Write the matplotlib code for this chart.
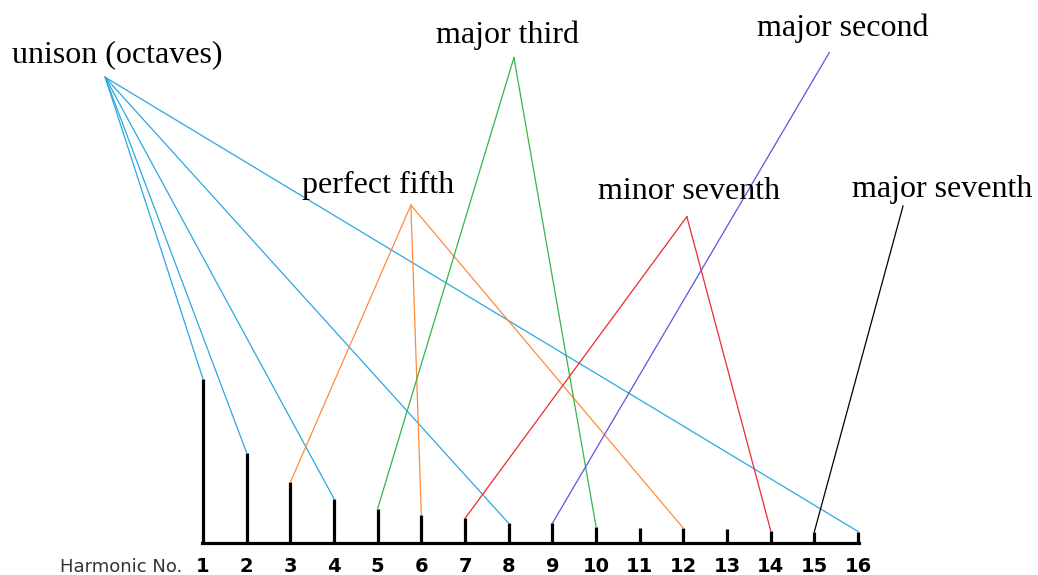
import matplotlib.pyplot as plt

# harmonic series, relative amplitude of each partial
harmonics = list(range(1, 17))
amplitudes = [1.0, 0.55, 0.37, 0.27, 0.21, 0.17, 0.15, 0.12,
              0.12, 0.10, 0.09, 0.09, 0.085, 0.075, 0.07, 0.07]

# interval names and which harmonics each one points at
interval_names = ["unison (octaves)", "perfect fifth", "major third",
                  "minor seventh", "major second", "major seventh"]
interval_targets = [[1, 2, 4, 8, 16], [3, 6, 12], [5, 10], [7, 14], [9], [15]]
interval_colors = ["#2aa8e2", "#ff8a3c", "#36b44a", "#ec2a2e", "#5a55e0", "black"]

# layout: label (centre x, baseline y) and the point the lines fan out from
label_pos = [(-0.97, 2.93), (5.01, 2.135), (7.98, 3.05),
             (12.13, 2.10), (15.65, 3.09), (17.92, 2.11)]
anchor_pos = [(-1.24, 2.84), (5.76, 2.06), (8.12, 2.96),
              (12.08, 1.99), (15.34, 2.99), (17.03, 2.055)]

fig = plt.figure(figsize=(10.38, 5.75), dpi=100)
ax = fig.add_axes([0, 32 / 575, 1, 543 / 575])
ax.set_xlim(-3.648, 20.12)
ax.set_ylim(0, 3.311)

ax.vlines(harmonics, 0, amplitudes, color="black", lw=2.3)

for name, targets, col, lp, ap in zip(interval_names, interval_targets,
                                      interval_colors, label_pos, anchor_pos):
    for h in targets:
        ax.plot([ap[0], h], [ap[1], amplitudes[h - 1]], color=col, lw=0.9,
                clip_on=False)
    ax.text(lp[0], lp[1], name, ha="center", va="baseline",
            family="Liberation Serif", fontsize=23)

for s in ["top", "right", "left"]:
    ax.spines[s].set_visible(False)
ax.spines["bottom"].set_bounds(harmonics[0] - 0.03, harmonics[-1] + 0.03)
ax.spines["bottom"].set_linewidth(2.3)
ax.set_yticks([])
ax.set_xticks(harmonics)
ax.set_xticklabels([str(h) for h in harmonics], fontweight="bold",
                   fontsize=14)
ax.tick_params(axis="x", length=0, pad=10)
ax.set_facecolor("none")

fig.text(60 / 1038, 3 / 575, "Harmonic No.", fontsize=13, color="#333333",
         va="baseline", ha="left")

fig.savefig("out.png", dpi=100)
